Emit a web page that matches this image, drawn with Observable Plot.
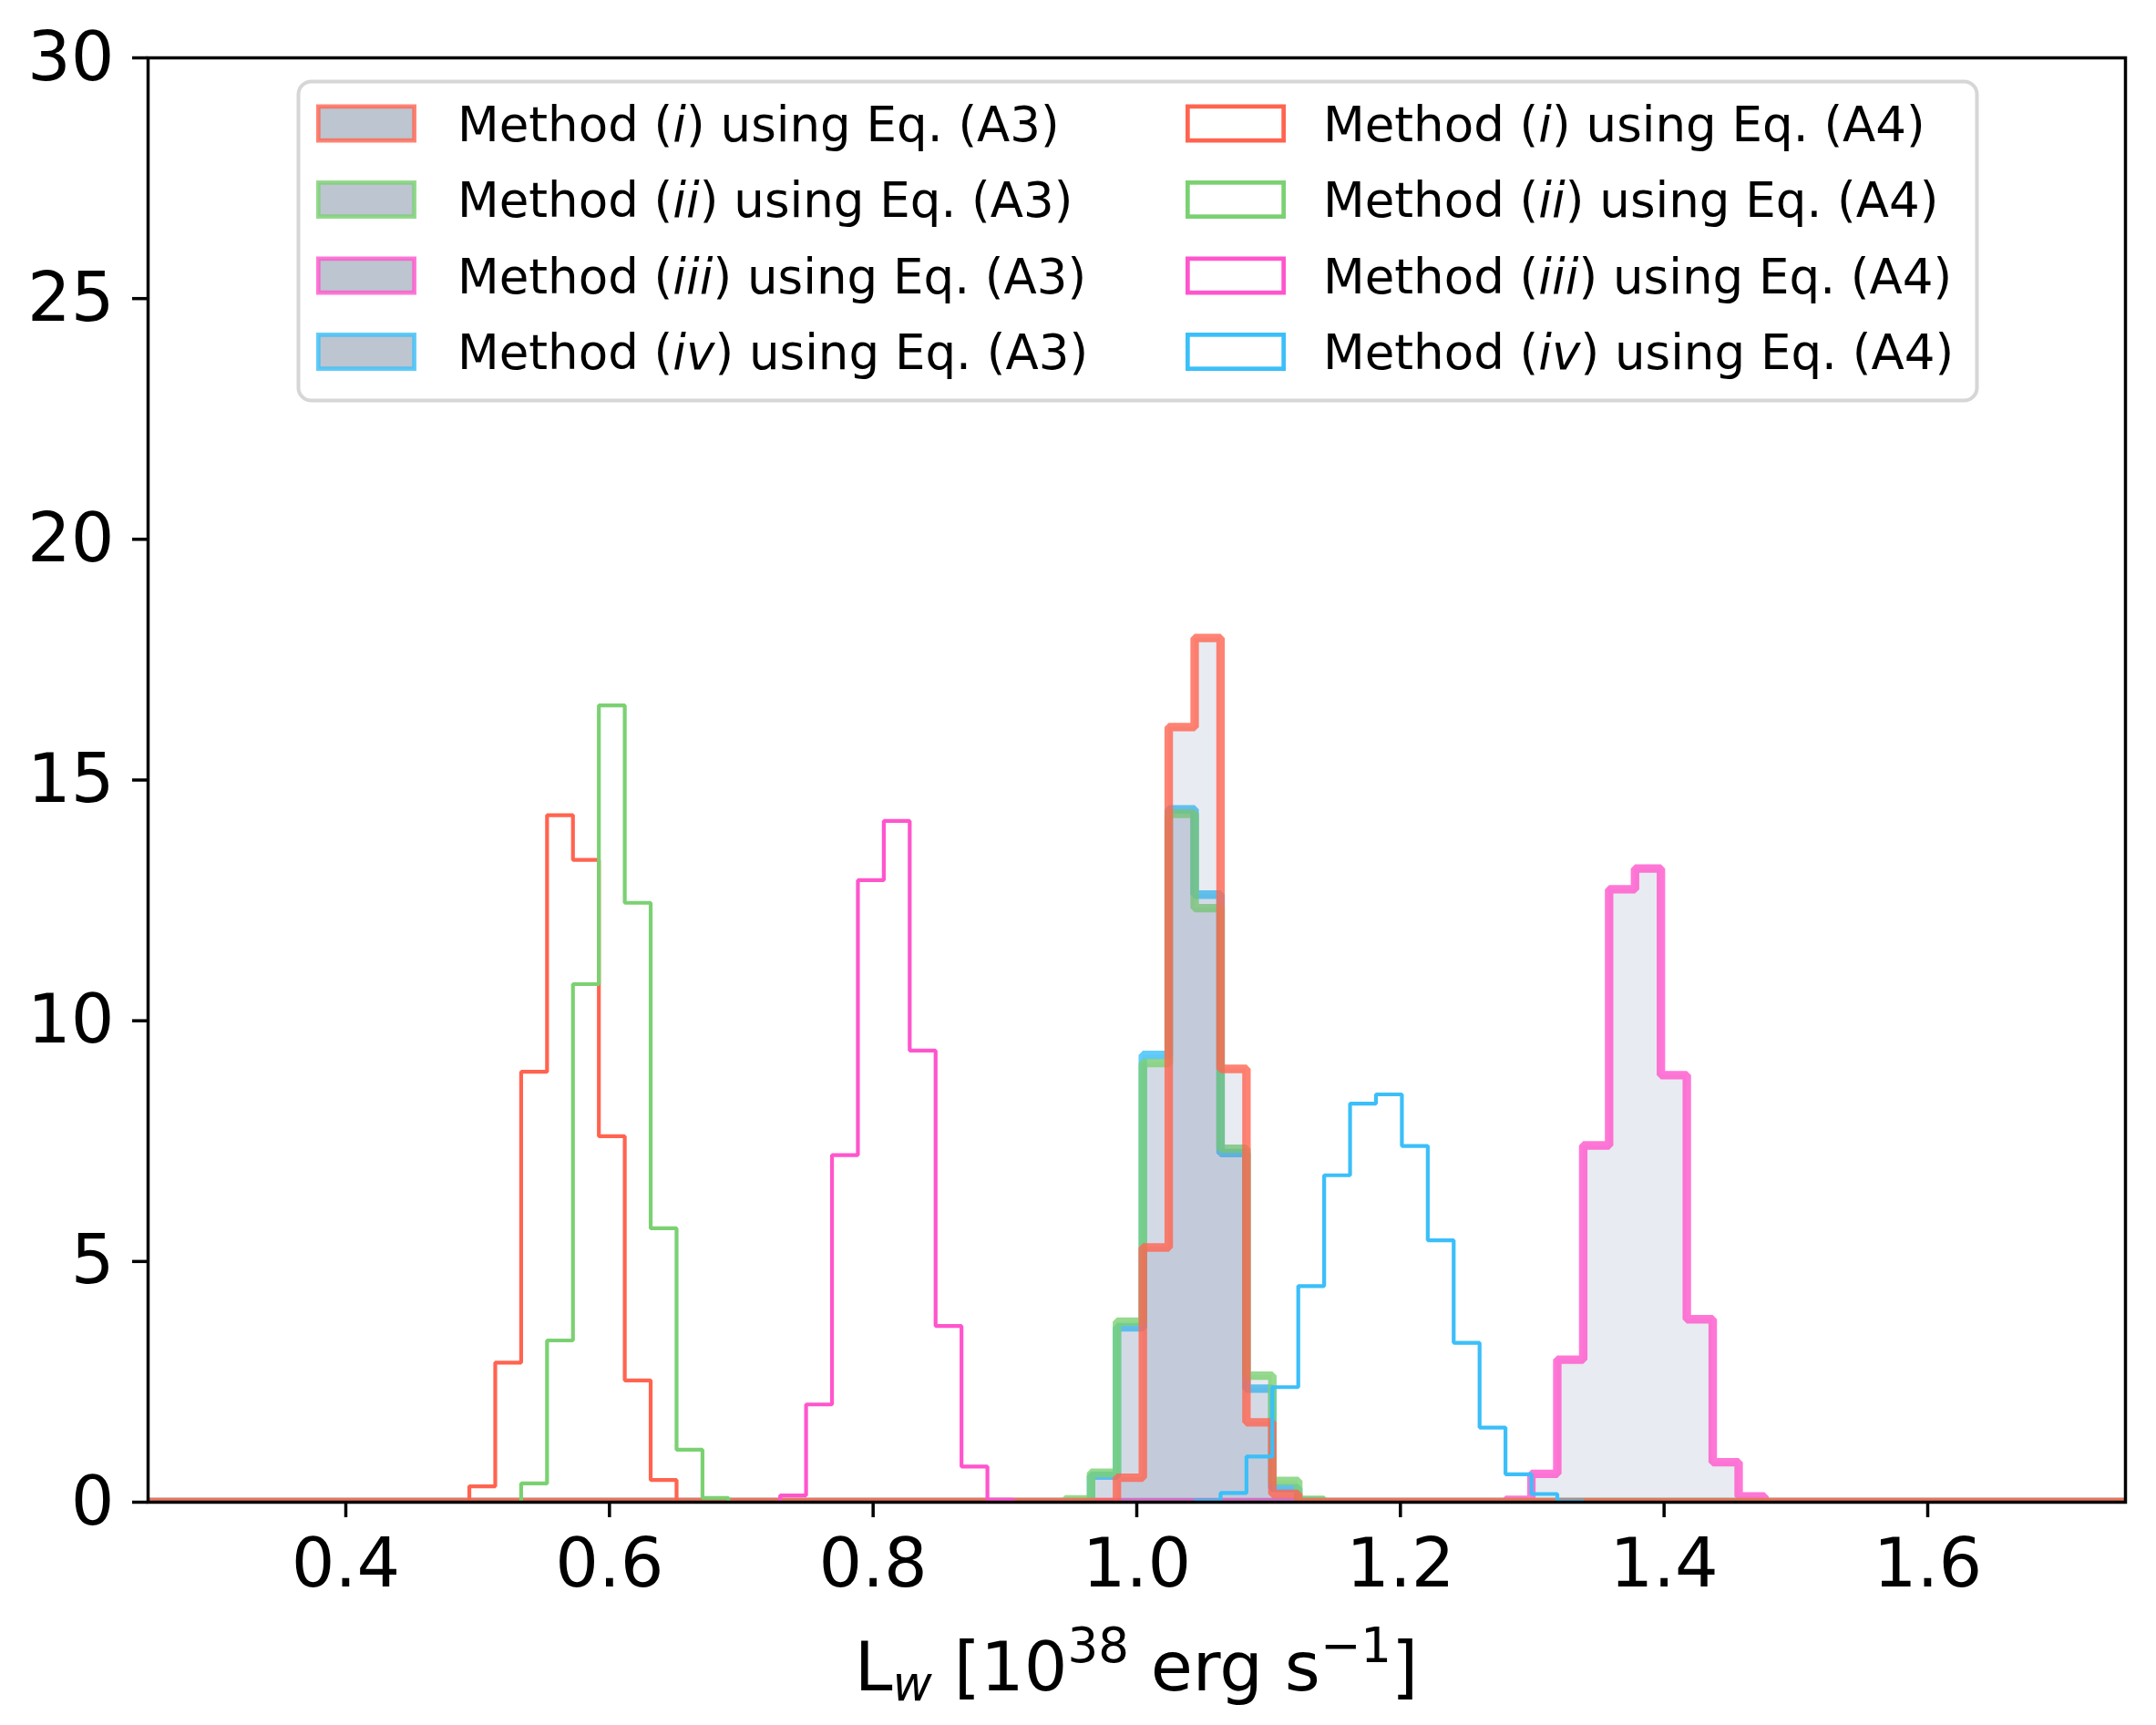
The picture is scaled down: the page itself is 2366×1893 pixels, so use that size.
<!DOCTYPE html>
<html>
<head>
<meta charset="utf-8">
<script src="https://cdn.jsdelivr.net/npm/d3@7"></script>
<script src="https://cdn.jsdelivr.net/npm/@observablehq/plot@0.6"></script>
<style>
  html, body { margin: 0; padding: 0; background: #fff; }
  #chart { position: relative; width: 2366px; height: 1893px; }
  svg text { white-space: pre; }
</style>
</head>
<body>
<div id="chart"></div>
<script>
// ---------- data (density histograms on a shared bin grid) ----------
const binStart = 0.4937;          // left edge of bin 0
const binWidth = 0.01965;         // common bin width
const xDomain = [0.25, 1.75];
const yDomain = [0, 30];
const xTicks = [0.4, 0.6, 0.8, 1.0, 1.2, 1.4, 1.6];
const yTicks = [0, 5, 10, 15, 20, 25, 30];

const methods = ["i", "ii", "iii", "iv"];
const colors  = ["#ff6450", "#7bd172", "#ff55cc", "#3bbff9"];

// Eq. (A3) — filled histograms (first bin index + densities)
const a3Start = [25, 23, 40, 24];
const a3_i   = [0.51, 5.29, 16.10, 17.95, 9.00, 1.66, 0.17];
const a3_ii  = [0.06, 0.61, 3.75, 9.12, 14.30, 12.34, 7.34, 2.63, 0.44, 0.05];
const a3_iii = [0.05, 0.59, 2.96, 7.41, 12.73, 13.16, 8.87, 3.80, 0.83, 0.12];
const a3_iv  = [0.55, 3.63, 9.29, 14.39, 12.62, 7.25, 2.36, 0.29, 0.03];

// Eq. (A4) — step histograms
const a4Start = [0, 2, 12, 28];
const a4_i   = [0.33, 2.90, 8.94, 14.27, 13.34, 7.60, 2.53, 0.46];
const a4_ii  = [0.39, 3.36, 10.76, 16.55, 12.45, 5.69, 1.09, 0.09];
const a4_iii = [0.14, 2.03, 7.21, 12.92, 14.15, 9.38, 3.66, 0.74, 0.05];
const a4_iv  = [0.03, 0.19, 0.95, 2.39, 4.49, 6.79, 8.28, 8.47, 7.40, 5.44, 3.31, 1.55, 0.58, 0.17, 0.02];

const a3Values = [a3_i, a3_ii, a3_iii, a3_iv];
const a4Values = [a4_i, a4_ii, a4_iii, a4_iv];

// ---------- build step outlines ----------
const edge = k => binStart + k * binWidth;
function outline(start, vals, full) {
  const pts = [];
  if (full) pts.push({x: xDomain[0], y: 0});
  else pts.push({x: edge(start), y: 0});
  vals.forEach((v, i) => pts.push({x: edge(start + i), y: v}));
  pts.push({x: edge(start + vals.length), y: 0});
  if (full) pts.push({x: xDomain[1], y: 0});
  return pts;
}

const marks = [];
// A3 drawn in order iv, iii, ii, i (red on top)
for (const i of [3, 2, 1, 0]) {
  const pts = outline(a3Start[i], a3Values[i], true);
  marks.push(Plot.areaY(pts, {x: "x", y: "y", curve: "step-after", fill: "#6478a0", fillOpacity: 0.15, clip: true}));
  marks.push(Plot.line(pts, {x: "x", y: "y", curve: "step-after", stroke: colors[i], strokeOpacity: 0.8,
    strokeWidth: 9.3, strokeLinejoin: "miter", strokeLinecap: "butt", clip: true}));
}
for (const i of [0, 1, 2, 3]) {
  const pts = outline(a4Start[i], a4Values[i], false);
  marks.push(Plot.line(pts, {x: "x", y: "y", curve: "step-after", stroke: colors[i],
    strokeWidth: 4.2, strokeLinejoin: "miter", strokeLinecap: "butt", clip: true}));
}

marks.push(Plot.axisX({ticks: xTicks, tickFormat: d3.format(".1f"), tickSize: 17, tickPadding: 22,
  strokeWidth: 3.5, fontSize: 75, label: null}));
marks.push(Plot.axisY({ticks: yTicks, tickSize: 17, tickPadding: 20, strokeWidth: 3.5, fontSize: 75, label: null}));
marks.push(Plot.frame({stroke: "black", strokeWidth: 3.5}));

const chart = Plot.plot({
  width: 2366,
  height: 1893,
  marginLeft: 162,
  marginRight: 34,
  marginTop: 63,
  marginBottom: 245,
  style: {fontFamily: "'DejaVu Sans', sans-serif", color: "black", background: "white", overflow: "visible"},
  x: {domain: xDomain},
  y: {domain: yDomain},
  marks
});
document.getElementById("chart").appendChild(chart);

// ---------- x-axis label with sub/superscripts ----------
const svg = d3.select(chart);
const lab = svg.append("text")
  .attr("x", 1247).attr("y", 1855)
  .attr("text-anchor", "middle")
  .style("font-family", "'DejaVu Sans', sans-serif")
  .style("font-size", "75px")
  .attr("fill", "black");
lab.append("tspan").text("L");
lab.append("tspan").attr("font-style", "italic").attr("font-size", "53px").attr("dy", 11).text("w");
lab.append("tspan").attr("dy", -11).text(" [10");
lab.append("tspan").attr("font-size", "53px").attr("dy", -31).text("38");
lab.append("tspan").attr("dy", 31).text(" erg s");
lab.append("tspan").attr("font-size", "53px").attr("dy", -31).text("−1");
lab.append("tspan").attr("dy", 31).text("]");

// ---------- legend ----------
const leg = svg.append("g").attr("text-anchor", "start");
leg.append("rect")
  .attr("x", 327.5).attr("y", 89.5).attr("width", 1842).attr("height", 350)
  .attr("rx", 14).attr("ry", 14)
  .attr("fill", "white").attr("fill-opacity", 0.8)
  .attr("stroke", "#d6d6d6").attr("stroke-width", 4);
const rowY = [135.5, 219, 302.5, 386];
const cols = [
  {patchX: 347, textX: 502, eq: "A3", filled: true},
  {patchX: 1301, textX: 1452, eq: "A4", filled: false}
];
cols.forEach(c => {
  methods.forEach((m, i) => {
    const cy = rowY[i];
    leg.append("rect")
      .attr("x", c.patchX + 2.35).attr("y", cy - 21 + 2.35)
      .attr("width", 110 - 4.7).attr("height", 42 - 4.7)
      .attr("fill", c.filled ? "#bcc5d0" : "none")
      .attr("stroke", colors[i]).attr("stroke-opacity", c.filled ? 0.8 : 1)
      .attr("stroke-width", 4.7);
    const t = leg.append("text")
      .attr("x", c.textX).attr("y", cy + 19)
      .attr("text-anchor", "start")
      .style("font-family", "'DejaVu Sans', sans-serif")
      .style("font-size", "53px").attr("fill", "black");
    t.append("tspan").text("Method (");
    t.append("tspan").attr("font-style", "italic").text(m);
    t.append("tspan").text(`) using Eq. (${c.eq})`);
  });
});
</script>
</body>
</html>
